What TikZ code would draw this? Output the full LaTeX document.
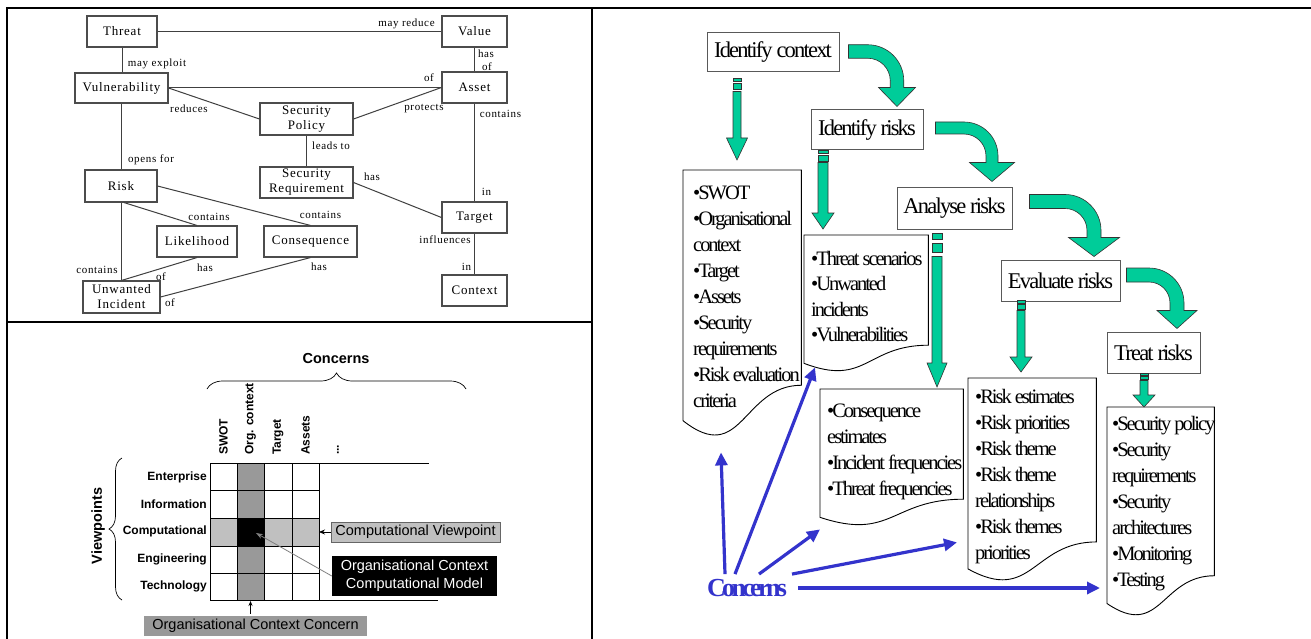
\documentclass[tikz,border=0pt]{standalone}
\usepackage{fontspec}
\setmainfont{Liberation Serif}
\setsansfont{Liberation Sans}
\newfontfamily\modelfont[LetterSpace=6]{Liberation Serif}
\newfontfamily\procfont[LetterSpace=-10]{Liberation Serif}
\newfontfamily\headfont[LetterSpace=-8]{Liberation Serif}
\newfontfamily\concfont[LetterSpace=-14]{Liberation Serif}
\usetikzlibrary{calc,arrows.meta,decorations.pathreplacing}

\definecolor{flowgreen}{RGB}{0,204,153}
\definecolor{concblue}{RGB}{51,51,204}
\definecolor{cellgray}{RGB}{153,153,153}
\definecolor{rowgray}{RGB}{192,192,192}

% bent block arrow: #1 start, #2 tip, #3 half thickness, #4 outer radius,
% #5 head half width, #6 head height
\newcommand\bentarrow[6]{%
  \filldraw[greenarrow]
    ($(#1)+(0,-#3)$) -- ($(#1 -| #2)+(#3-#4,-#3)$)
    .. controls ($(#1 -| #2)+(#3-0.448*#4,-#3)$) and ($(#1 -| #2)+(#3,-#3+0.448*#4)$) .. ($(#1 -| #2)+(#3,#4-#3)$)
    -- ($(#2)+(#3,-#6)$) -- ($(#2)+(#5,-#6)$) -- (#2) -- ($(#2)+(-#5,-#6)$) -- ($(#2)+(-#3,-#6)$)
    -- ($(#1 -| #2)+(-#3,#4-#3)$)
    .. controls ($(#1 -| #2)+(-#3,#4-#3-0.552*#4+1.104*#3)$) and ($(#1 -| #2)+(#3-#4+0.552*#4-1.104*#3,#3)$) .. ($(#1 -| #2)+(#3-#4,#3)$)
    -- ($(#1)+(0,#3)$) -- cycle;}

% striped down arrow: #1 start, #2 tip, #3 half body width, #4 head half width,
% #5 head height, #6 first stripe, #7 gap, #8 second stripe
\newcommand\stripearrow[8]{%
  \filldraw[greenarrow] ($(#1)+(-#3,0)$) rectangle ($(#1)+(#3,#6)$);
  \filldraw[greenarrow] ($(#1)+(-#3,#6+#7)$) rectangle ($(#1)+(#3,#6+#7+#8)$);
  \filldraw[greenarrow] ($(#1)+(-#3,#6+2*#7+#8)$) -- ($(#2)+(-#3,-#5)$) -- ($(#2)+(-#4,-#5)$)
    -- (#2) -- ($(#2)+(#4,-#5)$) -- ($(#2)+(#3,-#5)$) -- ($(#1)+(#3,#6+2*#7+#8)$) -- cycle;}

% document outline with wavy bottom around an empty node
\newcommand\docoutline[1]{%
  \draw[docline] let \p1=(#1.north west), \p2=(#1.south east) in
    (\p1) -- (\x2,\y1) -- (\x2,{\y1+0.802*(\y2-\y1)})
    .. controls ({(\x1+\x2)/2},{\y1+0.802*(\y2-\y1)}) and ({(\x1+\x2)/2},{\y1+1.1075*(\y2-\y1)})
    .. (\x1,{\y1+0.934*(\y2-\y1)}) -- cycle;}

\begin{document}
\begin{tikzpicture}[x=1pt,y=-1pt,
  frame/.style={line width=2.2pt,black},
  mbox/.style={draw=black!70,line width=1.1pt,fill=white,inner sep=0pt,align=center,
    font=\modelfont\fontsize{13}{15}\selectfont},
  mlabel/.style={inner sep=0pt,font=\modelfont\fontsize{11}{12}\selectfont},
  mline/.style={draw=black!75,line width=1pt},
  rowlab/.style={inner sep=0pt,anchor=east,font=\sffamily\bfseries\fontsize{12}{14}\selectfont},
  collab/.style={inner sep=0pt,rotate=90,anchor=west,font=\sffamily\bfseries\fontsize{12}{14}\selectfont},
  sanshead/.style={inner sep=0pt,font=\sffamily\bfseries\fontsize{14.5}{16}\selectfont},
  tagbox/.style={inner sep=0pt,align=center,font=\sffamily\fontsize{14.5}{18}\selectfont},
  procbox/.style={draw=black!65,line width=1pt,fill=white,inner sep=0pt,
    font=\headfont\fontsize{22.5}{24}\selectfont},
  docshape/.style={inner sep=0pt,anchor=north west},
  docline/.style={draw=black,line width=0.9pt,fill=white},
  doctext/.style={inner sep=0pt,anchor=north west,align=left,
    font=\procfont\fontsize{20.5}{26}\selectfont},
  greenarrow/.style={fill=flowgreen,draw=black!80,line width=0.6pt},
  concarrow/.style={draw=concblue,line width=3.2pt,-{Triangle[length=13pt,width=12pt]}}
]
\useasboundingbox (0,0) rectangle (1311,639);
\fill[white] (0,0) rectangle (1311,639);

% panel frame
\draw[frame] (6,8) -- (1311,8);
\draw[frame] (7,8) -- (7,639);
\draw[frame] (592,8) -- (592,639);
\draw[frame] (7,322) -- (592,322);

% ---------------- security concept model ----------------
\node[mbox,minimum width=70pt,minimum height=31pt] (threat) at (122,31.5) {Threat};
\node[mbox,minimum width=65pt,minimum height=31pt] (value) at (474.5,31.5) {Value};
\node[mbox,minimum width=93pt,minimum height=30pt] (vuln) at (121.5,88) {Vulnerability};
\node[mbox,minimum width=65pt,minimum height=31pt] (asset) at (474.5,87.5) {Asset};
\node[mbox,minimum width=93pt,minimum height=32pt] (secpol) at (306.5,119) {Security\\Policy};
\node[mbox,minimum width=72pt,minimum height=32pt] (risk) at (121,186) {Risk};
\node[mbox,minimum width=93pt,minimum height=31pt] (secreq) at (306.5,182.5) {Security\\Requirement};
\node[mbox,minimum width=80pt,minimum height=31pt] (likely) at (197,241.5) {Likelihood};
\node[mbox,minimum width=93pt,minimum height=31pt] (conseq) at (310.5,241.5) {Consequence};
\node[mbox,minimum width=65pt,minimum height=31pt] (target) at (474.5,217.5) {Target};
\node[mbox,minimum width=77pt,minimum height=32pt] (unwanted) at (121.5,297) {Unwanted\\Incident};
\node[mbox,minimum width=65pt,minimum height=31pt] (context) at (474.5,290.5) {Context};

\draw[mline] (threat) -- (value);
\draw[mline] (threat.south) -- (threat.south |- vuln.north);
\draw[mline] (value.south) -- (asset.north);
\draw[mline] (vuln.east) -- (vuln.east -| asset.west);
\draw[mline] (vuln.east) -- (secpol.west);
\draw[mline] (asset.west) -- (secpol.east);
\draw[mline] (secpol.south) -- (secreq.north);
\draw[mline] (vuln.south) -- (vuln.south |- risk.north);
\draw[mline] (asset.south) -- (target.north);
\draw[mline] (secreq.east) -- (target.west);
\draw[mline] (target.south) -- (context.north);
\draw[mline] (risk.-80) -- (likely.north);
\draw[mline] (risk.east) -- (conseq.north);
\draw[mline] (risk.south) -- (risk.south |- unwanted.north);
\draw[mline] (likely.south) -- (unwanted.north);
\draw[mline] (conseq.south) -- (unwanted.east);

\node[mlabel] (lmayred) at (406.5,24) {may reduce};
\node[mlabel] (lhas1) at (486,54) {has};
\node[mlabel] (lof1) at (487,67) {of};
\node[mlabel] (lof2) at (429,78) {of};
\node[mlabel] (lexploit) at (157,64) {may exploit};
\node[mlabel] (lreduces) at (189,109) {reduces};
\node[mlabel] (lprotects) at (424,109) {protects};
\node[mlabel] (lcont1) at (500.5,114) {contains};
\node[mlabel] (lleads) at (331,146) {leads to};
\node[mlabel] (lopens) at (151,160) {opens for};
\node[mlabel] (lhas2) at (372,177) {has};
\node[mlabel] (lin1) at (486.5,192) {in};
\node[mlabel] (lcont2) at (209,217) {contains};
\node[mlabel] (lcont3) at (320.5,215) {contains};
\node[mlabel] (linfl) at (445,240) {influences};
\node[mlabel] (lin2) at (466.5,267) {in};
\node[mlabel] (lcont4) at (97,270) {contains};
\node[mlabel] (lhas3) at (205,268) {has};
\node[mlabel] (lof3) at (161,277) {of};
\node[mlabel] (lhas4) at (319,267) {has};
\node[mlabel] (lof4) at (170,303) {of};

% ---------------- concerns / viewpoints matrix ----------------
\fill[cellgray] (237,463) rectangle (264,600);
\fill[rowgray] (210,518) rectangle (319,546);
\fill[black] (237,518) rectangle (264,546);
\foreach \gx in {210,237,264,292,319} \draw[line width=0.9pt] (\gx,463) -- (\gx,600);
\foreach \gy in {463,490,518,546,573,600} \draw[line width=0.9pt] (210,\gy) -- (319,\gy);
\draw[line width=0.9pt] (319,463) -- (429,463);
\draw[line width=0.9pt] (319,600) -- (438,600);
\coordinate (gridr) at (319,532);
\coordinate (occell) at (256,533);
\coordinate (gridb) at (250.5,601);

\node[sanshead] (concerns) at (336,359) {Concerns};
\draw[line width=0.7pt,decorate,decoration={brace,amplitude=16pt}] (207,389) -- (466,389);
\node[collab] (cswot) at (223.5,455) {SWOT};
\node[collab] (corg) at (250.5,455) {Org. context};
\node[collab] (ctarget) at (278,455) {Target};
\node[collab] (cassets) at (305.5,455) {Assets};
\node[collab] (cmore) at (338,455) {...};

\node[sanshead,rotate=90] (viewpoints) at (98,526) {Viewpoints};
\draw[line width=0.7pt,decorate,decoration={brace,amplitude=13pt}] (122,600) -- (122,458);
\node[rowlab] (venter) at (207,477) {Enterprise};
\node[rowlab] (vinfo) at (207,504) {Information};
\node[rowlab] (vcomp) at (207,531) {Computational};
\node[rowlab] (veng) at (207,559) {Engineering};
\node[rowlab] (vtech) at (207,586) {Technology};

\node[tagbox,draw=black!60,line width=0.8pt,fill=rowgray,minimum width=169pt,minimum height=20pt] (cvp) at (415.5,532) {Computational Viewpoint};
\draw[line width=0.8pt,-{Stealth[length=6pt,width=5pt]}] (cvp.west) -- (gridr);
\node[tagbox,fill=black,text=white,minimum width=165pt,minimum height=40pt] (occm) at (414.5,576) {Organisational Context\\Computational Model};
\draw[black!50,line width=0.8pt,-{Stealth[length=7pt,width=5pt]}] (occm.west) -- (occell);
\node[tagbox,fill=cellgray,minimum width=223pt,minimum height=20pt] (occ) at (255.5,626) {Organisational Context Concern};
\draw[line width=0.7pt,-{Stealth[length=5pt,width=4pt]}] ($(occ.north -| gridb)+(0,-2)$) -- (gridb);

% ---------------- risk analysis process ----------------
\node[procbox,minimum width=132pt,minimum height=39pt] (ic) at (773,52.5) {Identify context};
\node[procbox,minimum width=112pt,minimum height=40pt] (ir) at (867,130) {Identify risks};
\node[procbox,minimum width=115pt,minimum height=41pt] (ar) at (954.5,208.5) {Analyse risks};
\node[procbox,minimum width=119pt,minimum height=41pt] (er) at (1060.5,280.5) {Evaluate risks};
\node[procbox,minimum width=93pt,minimum height=41pt] (tr) at (1153.5,352.5) {Treat risks};

\node[docshape,minimum width=118pt,minimum height=268pt] (d1) at (683,170) {};
\node[docshape,minimum width=124pt,minimum height=137pt] (d2) at (804,235) {};
\node[docshape,minimum width=143pt,minimum height=137pt] (d3) at (820,389) {};
\node[docshape,minimum width=128pt,minimum height=204pt] (d4) at (968,378) {};
\node[docshape,minimum width=107pt,minimum height=210pt] (d5) at (1107,407) {};
\docoutline{d1}
\docoutline{d2}
\docoutline{d3}
\docoutline{d4}
\docoutline{d5}

\node[doctext] (t1) at ($(d1.north west)+(10,16)$) {•SWOT\\•Organisational\\context\\•Target\\•Assets\\•Security\\requirements\\•Risk evaluation\\criteria};
\node[doctext,font=\procfont\fontsize{20.5}{25.3}\selectfont] (t2) at ($(d2.north west)+(7,16)$) {•Threat scenarios\\•Unwanted\\incidents\\•Vulnerabilities};
\node[doctext] (t3) at ($(d3.north west)+(7,15)$) {•Consequence\\estimates\\•Incident frequencies\\•Threat frequencies};
\node[doctext] (t4) at ($(d4.north west)+(7,11)$) {•Risk estimates\\•Risk priorities\\•Risk theme\\•Risk theme\\relationships\\•Risk themes\\priorities};
\node[doctext] (t5) at ($(d5.north west)+(5,9)$) {•Security policy\\•Security\\requirements\\•Security\\architectures\\•Monitoring\\•Testing};

% process flow arrows
\coordinate (a1s) at ($(ic.east)+(9,-1)$);
\coordinate (a1t) at ($(ir.north)+(30,-3)$);
\coordinate (a2s) at ($(ir.east)+(12,-2)$);
\coordinate (a2t) at ($(ar.north)+(37.5,-6)$);
\coordinate (a3s) at ($(ar.east)+(17,-7)$);
\coordinate (a3t) at ($(er.north)+(33.5,-3)$);
\coordinate (a4s) at ($(er.east)+(6,-5.5)$);
\coordinate (a4t) at ($(tr.north)+(23.5,-3)$);
\bentarrow{a1s}{a1t}{6.75}{36}{18.5}{19}
\bentarrow{a2s}{a2t}{6}{34}{22.5}{19}
\bentarrow{a3s}{a3t}{7}{36}{25.5}{19}
\bentarrow{a4s}{a4t}{7}{35}{20}{18}

% output arrows
\coordinate (o1s) at ($(ic.south)+(-36,6)$);
\coordinate (o1t) at ($(o1s |- d1.north)+(0,-10)$);
\coordinate (o2s) at ($(ir.south)+(-44,0)$);
\coordinate (o2t) at ($(o2s |- d2.north)+(0,-6)$);
\coordinate (o3s) at ($(ar.south)+(-17.5,4)$);
\coordinate (o3t) at ($(o3s |- d3.north)+(0,-2)$);
\coordinate (o4s) at ($(er.south)+(-39.5,-1)$);
\coordinate (o4t) at ($(o4s |- d4.north)+(0,-6)$);
\coordinate (o5s) at ($(tr.south)+(-9.5,0)$);
\coordinate (o5t) at (o5s |- d5.north);
\stripearrow{o1s}{o1t}{4}{10.5}{22}{3}{2}{6}
\stripearrow{o2s}{o2t}{5}{11}{16}{3}{1.5}{6}
\stripearrow{o3s}{o3t}{5}{10}{24}{6}{4}{9}
\stripearrow{o4s}{o4t}{4}{11}{15}{3}{1}{5}
\stripearrow{o5s}{o5t}{4}{11}{12}{2}{1}{3}

% concerns feeding each step
\node[inner xsep=0pt,inner ysep=5pt,text=concblue,font=\concfont\bfseries\fontsize{26}{28}\selectfont] (conc) at (747,588) {Concerns};
\draw[concarrow] ($(conc.north)+(-22,0)$) -- ($(d1.south west)+(38,14)$);
\draw[concarrow] ($(conc.north)+(-12,0)$) -- ($(d2.south west)+(11,-5)$);
\draw[concarrow] ($(conc.north)+(12,0)$) -- ($(d3.south west)+(0,3)$);
\draw[concarrow] ($(conc.north)+(45,0)$) -- ($(d4.south west)+(-11,-40)$);
\draw[concarrow] ($(conc.east)+(11,0)$) -- ($(conc.east -| d5.west)+(-7,0)$);
\end{tikzpicture}
\end{document}
